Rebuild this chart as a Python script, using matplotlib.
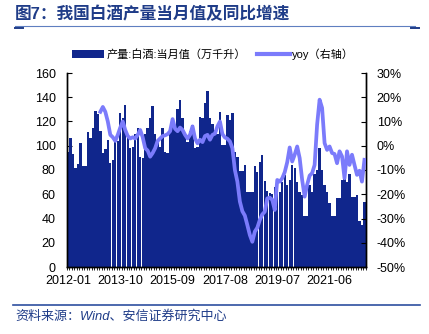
import numpy as np
import matplotlib
matplotlib.use("Agg")
import matplotlib.pyplot as plt
from matplotlib.patches import Patch
from matplotlib.lines import Line2D
from matplotlib.ticker import FixedLocator, FuncFormatter

CJK = ["Liberation Sans", "Noto Sans CJK SC", "DejaVu Sans"]
plt.rcParams["font.family"] = CJK


def build_months():
    """Monthly categories; January is reported together with February from 2014 on."""
    out = []
    for y in range(2012, 2023):
        for m in range(1, 13):
            if y >= 2014 and m == 1:
                continue
            if y == 2022 and m > 9:
                break
            out.append(f"{y}-{m:02d}")
    return out


months = build_months()

# Baijiu output, monthly value (10k kilolitres)
production = [
    95, 106, 93, 82, 85, 102, 83, 83, 111, 106,
    115, 129, 126, 112, 94, 97, 105, 86, 88, 104,
    104, 127, 123, 134, 110, 98, 99, 110, 115, 91,
    90, 110, 115, 123, 133, 110, 102, 99, 115, 95,
    94, 113, 123, 115, 130, 138, 123, 109, 103, 112,
    117, 98, 99, 124, 123, 135, 145, 123, 118, 113,
    110, 128, 101, 101, 125, 121, 127, 95, 91, 79,
    79, 84, 62, 62, 62, 83, 78, 87, 92, 71,
    63, 61, 60, 66, 70, 62, 70, 76, 68, 72,
    84, 82, 70, 62, 59, 42, 42, 68, 62, 77,
    80, 98, 80, 68, 62, 53, 42, 42, 57, 57,
    72, 78, 70, 77, 58, 58, 59, 38, 35, 54,
]

# Year-on-year growth (%), available from the 14th month on
yoy_start = 13
yoy = [
    14, 16, 14, 10, 4.5, 3.5, 2, 4.5, 7.5, 10,
    6.5, 4, 3, 3.5, 3, 4.5, 6.5, 3.5, -1, -2,
    -4.5, -3, -1, 2, 3, 4, 4.3, 4.8, 6, 11,
    7, 6, 7.5, 6.5, 4.5, 3, 4.5, 8, 3, 1,
    2.5, 1.5, 4, 4.5, 2.5, 4.5, 5, 8, 10, 4.8,
    3.4, 2.9, 1.8, -1, -10, -14.8, -23, -27, -28.8, -32.7,
    -36.8, -39.6, -35.4, -33.8, -30.6, -28.3, -27.2, -21.7, -21.4, -22.3,
    -26.5, -14.1, -14.8, -13.4, -10.9, -6.8, -0.7, -6.5, -3.7, -0.3,
    -5.1, -14.1, -21, -16.1, -12.3, -11.3, -7.9, 8.7, 19, 15.6,
    1.1, -1.7, -0.3, -3, -3.4, -7.2, -2.3, -4.4, -13.4, -2.3,
    -7.9, -3.7, -7.9, -12, -10.3, -14.8, -5.8,
]

label_step = 21
bar_name = "产量:白酒:当月值（万千升）"
line_name = "yoy（右轴）"
title = "图7：我国白酒产量当月值及同比增速"
source = "资料来源：Wind、安信证券研究中心"

BAR = "#10268C"
LINE = "#7B7BFB"
NAVY = "#1F3C88"

W, H = 429, 334
fig = plt.figure(figsize=(W / 100, H / 100), dpi=100)
fig.patch.set_facecolor("white")

ax = fig.add_axes([66.7 / W, 1 - 267 / H, 299 / W, 194 / H])
x = np.arange(len(months))
ax.bar(x, production, width=0.95, color=BAR, linewidth=0, zorder=2)
ax.set_xlim(-0.5, len(months) - 0.5)
ax.set_ylim(0, 160)
ax.yaxis.set_major_locator(FixedLocator(np.arange(0, 161, 20)))

ax2 = ax.twinx()
ax2.plot(x[yoy_start:], yoy, color=LINE, lw=2.7, solid_joinstyle="round", zorder=3)
ax2.set_ylim(-50, 30)
ax2.yaxis.set_major_locator(FixedLocator(np.arange(-50, 31, 10)))
ax2.yaxis.set_major_formatter(FuncFormatter(lambda v, p: f"{v:.0f}%"))

# category axis: labels every 21 months, small ticks on every category boundary
ax.set_xticks(x[::label_step])
ax.set_xticklabels(months[::label_step])
ax.set_xticks(np.arange(-0.5, len(months), 1), minor=True)
ax.tick_params(axis="x", which="major", length=0, pad=6, labelsize=9)
ax.tick_params(axis="x", which="minor", length=2.2, width=0.6, direction="out")
ax.tick_params(axis="y", length=3.5, direction="in", pad=8, labelsize=9)
ax2.tick_params(axis="y", length=3.5, direction="in", pad=8, labelsize=9)

for a in (ax, ax2):
    a.spines["top"].set_visible(False)
    for s in ("left", "right", "bottom"):
        a.spines[s].set_linewidth(1.0)
        a.spines[s].set_color("black")

handles = [
    Patch(facecolor=BAR, edgecolor="none"),
    Line2D([], [], color=LINE, lw=3),
]
fig.legend(handles, [bar_name, line_name], loc="center",
           bbox_to_anchor=(213 / W, 1 - 54 / H), ncol=2, frameon=False,
           fontsize=8, handlelength=2.9, handleheight=0.65,
           handletextpad=0.2, columnspacing=1.0, borderaxespad=0)

fig.text(15 / W, 1 - 14 / H, title, fontsize=12, fontweight="bold",
         color=NAVY, va="center", ha="left")
fig.add_artist(Line2D([15 / W, 415 / W], [1 - 25.5 / H] * 2,
                      transform=fig.transFigure, color="#5F7FC0", lw=0.8))
for xs in ((15, 23), (411, 419)):
    fig.add_artist(Line2D([xs[0] / W, xs[1] / W], [1 - 27.5 / H] * 2,
                          transform=fig.transFigure, color=NAVY, lw=1.4))

fig.add_artist(Line2D([13 / W, 420 / W], [1 - 305 / H] * 2,
                      transform=fig.transFigure, color="#2E4FA0", lw=1.2))
fig.text(15 / W, 1 - 316 / H, source, fontsize=9.4, style="italic",
         color=NAVY, va="center", ha="left")

fig.savefig("out.png", dpi=100)
